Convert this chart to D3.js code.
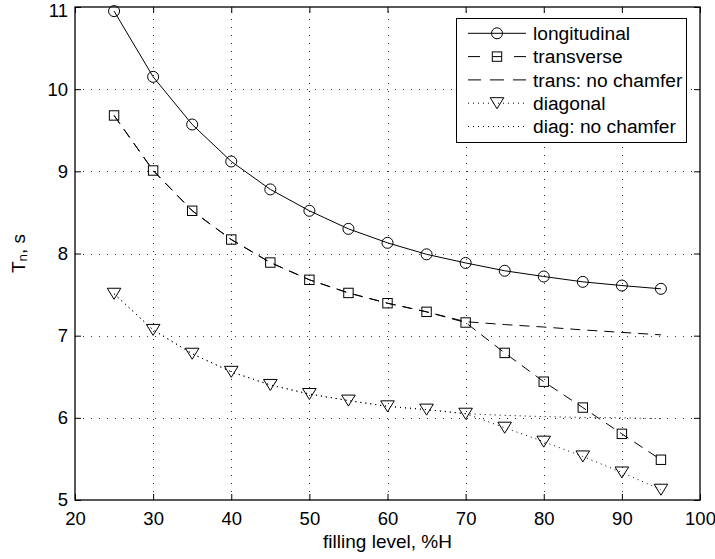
<!DOCTYPE html>
<html>
<head>
<meta charset="utf-8">
<script src="https://cdn.jsdelivr.net/npm/d3@7"></script>
<style>
  body { margin: 0; background: #fff; }
  svg { display: block; font-family: "Liberation Sans", Arial, Helvetica, sans-serif; }
</style>
</head>
<body>
<svg id="chart" width="715" height="559"></svg>
<script>
const level = [25, 30, 35, 40, 45, 50, 55, 60, 65, 70, 75, 80, 85, 90, 95];
const longitudinal = [10.95, 10.15, 9.57, 9.12, 8.78, 8.52, 8.30, 8.13, 7.99, 7.885, 7.79, 7.72, 7.655, 7.61, 7.57];
const transverse = [9.68, 9.01, 8.52, 8.17, 7.89, 7.68, 7.52, 7.395, 7.29, 7.16, 6.79, 6.44, 6.125, 5.805, 5.49];
const transNoChamfer = [9.68, 9.01, 8.52, 8.17, 7.89, 7.68, 7.52, 7.395, 7.29, 7.17, 7.135, 7.105, 7.07, 7.04, 7.01];
const diagonal = [7.51, 7.07, 6.78, 6.56, 6.40, 6.29, 6.21, 6.14, 6.10, 6.05, 5.88, 5.71, 5.53, 5.335, 5.125];
const diagNoChamfer = [7.51, 7.07, 6.78, 6.56, 6.40, 6.29, 6.21, 6.14, 6.10, 6.05, 6.03, 6.015, 6.005, 6.0, 5.99];
const xTicks = [20, 30, 40, 50, 60, 70, 80, 90, 100];
const yTicks = [5, 6, 7, 8, 9, 10, 11];
const seriesNames = ["longitudinal", "transverse", "trans: no chamfer", "diagonal", "diag: no chamfer"];

const W = 715, H = 559;
const m = { left: 75, right: 15, top: 7, bottom: 59 };
const svg = d3.select("#chart");
const x = d3.scaleLinear().domain([20, 100]).range([m.left, W - m.right]);
const y = d3.scaleLinear().domain([5, 11]).range([H - m.bottom, m.top]);
const FS_TICK = 18.5, FS_LABEL = 19, FS_LEG = 19.2;

// grid
const grid = svg.append("g").attr("stroke", "#333").attr("stroke-width", 1).attr("stroke-dasharray", "1,7");
grid.selectAll("line.gx").data(xTicks.slice(1, -1)).enter().append("line")
  .attr("x1", d => Math.round(x(d)) + 0.5).attr("x2", d => Math.round(x(d)) + 0.5)
  .attr("y1", y(5)).attr("y2", y(11));
grid.selectAll("line.gy").data(yTicks.slice(1, -1)).enter().append("line")
  .attr("y1", d => Math.round(y(d)) + 0.5).attr("y2", d => Math.round(y(d)) + 0.5)
  .attr("x1", x(20)).attr("x2", x(100));

// axes
function styleAxis(g) {
  g.select(".domain").remove();
  g.selectAll(".tick line").attr("stroke", "#000");
  g.selectAll(".tick text").attr("font-size", FS_TICK).attr("fill", "#000").attr("font-family", "Liberation Sans, Arial, sans-serif");
}
const fmt = d3.format("d");
svg.append("g").attr("transform", `translate(0,${y(5)})`)
  .call(d3.axisBottom(x).tickValues(xTicks).tickFormat(fmt).tickSizeInner(-6).tickSizeOuter(0).tickPadding(12))
  .call(styleAxis);
svg.append("g").attr("transform", `translate(0,${y(11)})`)
  .call(d3.axisTop(x).tickValues(xTicks).tickSizeInner(-6).tickSizeOuter(0).tickFormat(""))
  .call(styleAxis);
const yAxisG = svg.append("g").attr("transform", `translate(${x(20)},0)`)
  .call(d3.axisLeft(y).tickValues(yTicks).tickFormat(fmt).tickSizeInner(-6).tickSizeOuter(0).tickPadding(7))
  .call(styleAxis);
// top label is nudged down to stay inside the figure, as in the reference
yAxisG.selectAll(".tick text").filter(d => d === 11).attr("dy", "0.52em");
svg.append("g").attr("transform", `translate(${x(100)},0)`)
  .call(d3.axisRight(y).tickValues(yTicks).tickSizeInner(-6).tickSizeOuter(0).tickFormat(""))
  .call(styleAxis);

// box
svg.append("rect").attr("x", x(20)).attr("y", y(11)).attr("width", x(100) - x(20)).attr("height", y(5) - y(11))
  .attr("fill", "none").attr("stroke", "#000").attr("stroke-width", 1.3);

// labels
svg.append("text").attr("x", (x(20) + x(100)) / 2).attr("y", 548).attr("text-anchor", "middle")
  .attr("font-size", FS_LABEL).attr("fill", "#000").text("filling level, %H");
const yl = svg.append("text").attr("transform", `translate(25,${(y(5) + y(11)) / 2}) rotate(-90)`)
  .attr("text-anchor", "middle").attr("font-size", FS_LABEL).attr("fill", "#000");
yl.append("tspan").text("T");
yl.append("tspan").attr("font-size", 13.5).attr("dy", 2).text("n");
yl.append("tspan").attr("dy", -2).text(", s");

// marker draw helper
function drawMarker(g, type, cx, cy) {
  if (type === "circle") {
    g.append("circle").attr("cx", cx).attr("cy", cy).attr("r", 5.5)
      .attr("fill", "none").attr("stroke", "#000").attr("stroke-width", 1);
  } else if (type === "square") {
    g.append("rect").attr("x", cx - 4.7).attr("y", cy - 4.7).attr("width", 9.4).attr("height", 9.4)
      .attr("fill", "none").attr("stroke", "#000").attr("stroke-width", 1);
  } else if (type === "triangle") {
    g.append("path").attr("d", `M${cx - 6.8},${cy - 5.5}L${cx + 6.8},${cy - 5.5}L${cx},${cy + 5.5}Z`)
      .attr("fill", "none").attr("stroke", "#000").attr("stroke-width", 1);
  }
}

const series = [
  { name: seriesNames[0], values: longitudinal, dash: null, marker: "circle", legDash: null },
  { name: seriesNames[1], values: transverse, dash: "10,7", marker: "square", legDash: "12,12.5,9,12.5,12" },
  { name: seriesNames[2], values: transNoChamfer, dash: "10,7", marker: null, legDash: "13,9,14,9,13" },
  { name: seriesNames[3], values: diagonal, dash: "1,4", marker: "triangle", legDash: "1,4" },
  { name: seriesNames[4], values: diagNoChamfer, dash: "1,4", marker: null, legDash: "1,4" }
];

const line = d3.line().x(d => x(d[0])).y(d => y(d[1]));
const plot = svg.append("g");
series.forEach(s => {
  const pts = level.map((l, i) => [l, s.values[i]]);
  plot.append("path").attr("d", line(pts)).attr("fill", "none").attr("stroke", "#000")
    .attr("stroke-width", 1).attr("stroke-dasharray", s.dash);
  if (s.marker) {
    const mg = plot.append("g");
    pts.forEach(p => drawMarker(mg, s.marker, x(p[0]), y(p[1])));
  }
});

// legend
const lg = svg.append("g");
lg.append("rect").attr("x", 456.5).attr("y", 18.5).attr("width", 230).attr("height", 124)
  .attr("fill", "#fff").attr("stroke", "#000").attr("stroke-width", 1);
series.forEach((s, i) => {
  const cy = 33.3 + i * 23.3;
  lg.append("line").attr("x1", 468).attr("x2", 526).attr("y1", cy).attr("y2", cy)
    .attr("stroke", "#000").attr("stroke-width", 1)
    .attr("stroke-dasharray", s.legDash);
  if (s.marker) drawMarker(lg, s.marker, 497, cy);
  lg.append("text").attr("x", 533).attr("y", cy).attr("dy", "0.35em").attr("font-size", FS_LEG)
    .attr("fill", "#000").text(s.name);
});
</script>
</body>
</html>
